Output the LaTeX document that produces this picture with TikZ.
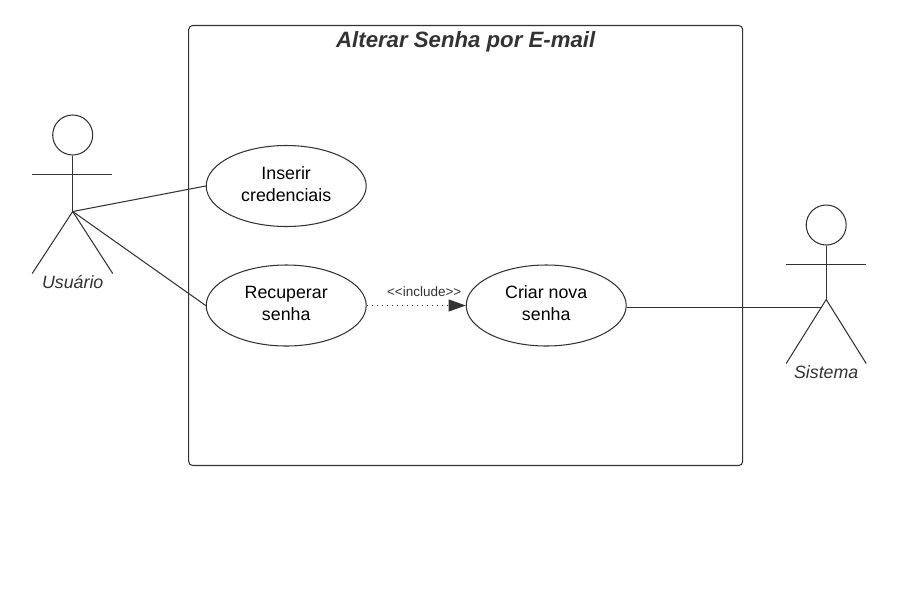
\documentclass[tikz,border=0pt]{standalone}
\usepackage{fontspec}
\setmainfont{Liberation Sans}
\usetikzlibrary{shapes.geometric,arrows.meta}
\definecolor{ink}{HTML}{333333}
\newcommand{\lift}{\rule[-4.4pt]{0pt}{0pt}}
\tikzset{
  x=1pt,y=-1pt,
  every path/.style={line width=1.05pt},
  usecase/.style={draw=ink,ellipse,minimum width=160pt,minimum height=81pt,inner sep=0pt,align=center,font=\fontsize{17.8}{22}\selectfont,text=black},
  actorlabel/.style={font=\fontsize{17.8}{20}\selectfont\itshape,text=ink,inner sep=0pt},
  head/.style={draw=ink,circle,minimum size=40pt,inner sep=0pt},
  boxframe/.style={draw=ink,rounded corners=4pt},
}
\begin{document}
\begin{tikzpicture}[color=ink]
\useasboundingbox (-0.2,-0.5) rectangle (900.8,610.5);
\fill[white] (-0.2,-0.5) rectangle (900.8,610.5);
\node[boxframe,minimum width=554pt,minimum height=440pt,inner sep=0pt] (sys) at (465.5,245) {};
\node[font=\fontsize{22.2}{26}\selectfont\bfseries\itshape,text=ink,inner sep=0pt] (title) at (465.5,41) {Alterar Senha por E-mail};
% Actor Usuario
\node[head] (h1) at (72.5,134.5) {};
\coordinate (hip1) at (72.5,211);
\coordinate (armL1) at (32,174);
\coordinate (armR1) at (112,174);
\coordinate (legL1) at (32,273);
\coordinate (legR1) at (112.5,273);
\draw (h1.south) -- (hip1);
\draw (armL1) -- (armR1);
\draw (legL1) -- (hip1) -- (legR1);
\node[actorlabel] (l1) at (72.5,282) {Usuário};
% Actor Sistema
\node[head] (h2) at (826,224.5) {};
\coordinate (hip2) at (826,299);
\coordinate (armL2) at (786,264);
\coordinate (armR2) at (866,264);
\coordinate (legL2) at (786,363);
\coordinate (legR2) at (866,363);
\coordinate (att2) at (822,307);
\draw (h2.south) -- (hip2);
\draw (armL2) -- (armR2);
\draw (legL2) -- (hip2) -- (legR2);
\node[actorlabel] (l2) at (826,372) {Sistema};
% Use cases
\node[usecase] (u1) at (286,185.5) {Inserir\\credenciais\lift};
\node[usecase] (u2) at (286,305) {Recuperar\\senha\lift};
\node[usecase] (u3) at (546,305) {Criar nova\\senha\lift};
% Connectors
\draw (hip1) -- (u1.west);
\draw (hip1) -- (u2.west);
\draw (u3.east |- att2) -- (att2);
\draw[line width=0.9pt,dash pattern=on 1.5pt off 3.5pt,-{Triangle[length=17pt,width=12pt,fill=ink]}] (u2.east) -- (u3.west);
\node[font=\fontsize{13.5}{15}\selectfont,text=ink,inner sep=0pt] (inc) at (424,291.5) {<{}<include>{}>};
\end{tikzpicture}
\end{document}
